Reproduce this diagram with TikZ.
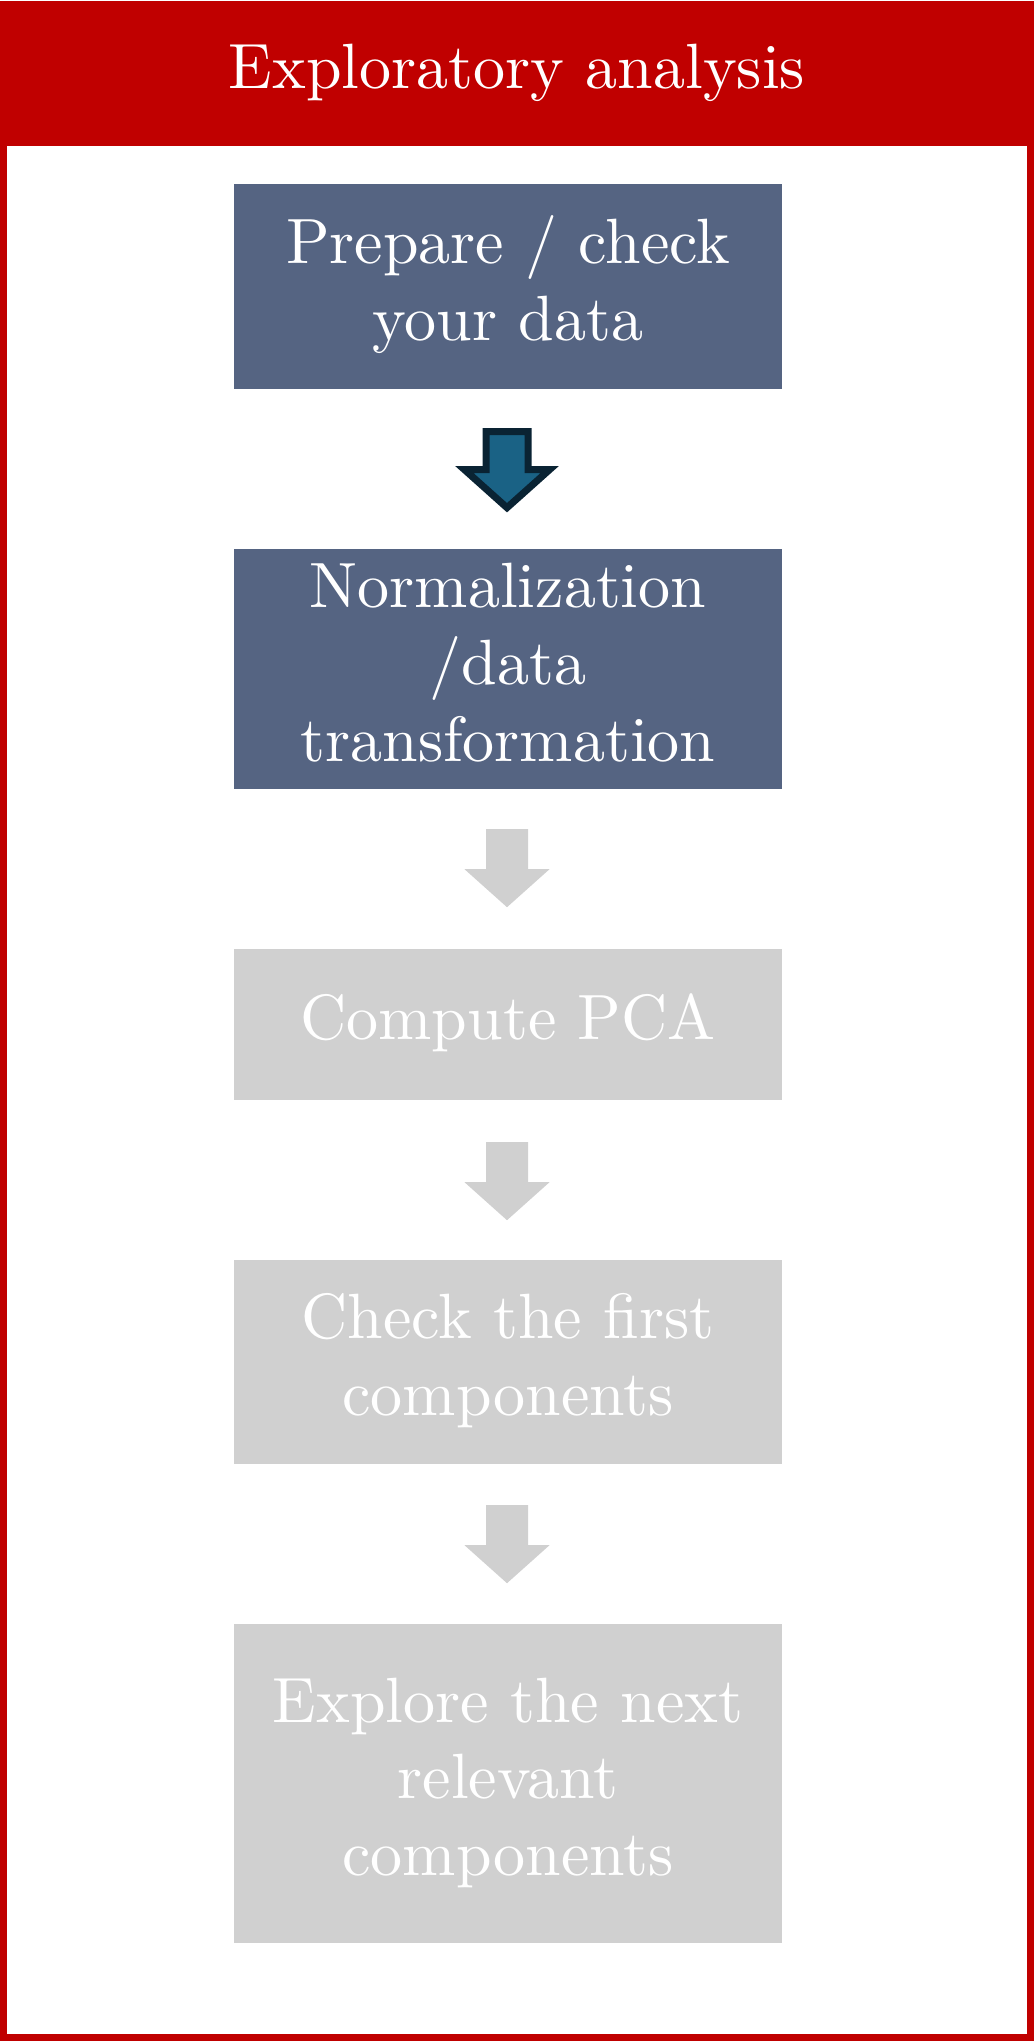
\documentclass[tikz,border=0pt]{standalone}
\usetikzlibrary{calc}
\definecolor{hdrred}{HTML}{C00000}
\definecolor{slate}{HTML}{556482}
\definecolor{arrblue}{HTML}{1A6285}
\definecolor{arrdark}{HTML}{0A2333}
\definecolor{lightgray}{HTML}{D0D0D0}
\newcommand{\bigtxt}[1]{\scalebox{6.4}{\fontsize{10}{12}\selectfont\begin{tabular}{@{}c@{}}#1\end{tabular}}}
\begin{document}
\begin{tikzpicture}[x=1pt,y=-1pt,
  bigtext/.style={text=white, align=center, inner sep=0pt},
  stepbox/.style={bigtext, minimum width=548pt, anchor=center},
  activebox/.style={stepbox, fill=slate},
  idlebox/.style={stepbox, fill=lightgray},
  activearrow/.style={fill=arrblue, draw=arrdark, line width=7pt, miter limit=10},
  idlearrow/.style={fill=lightgray, draw=none}
]
\useasboundingbox (0,0) rectangle (1035,2044);
\fill[white] (0,0) rectangle (1035,2044);
% frame and header
\draw[hdrred, line width=6.5pt] (3.5,4) rectangle (1030.5,2037.5);
\fill[hdrred] (0.5,1) rectangle (1034,146);
\node[bigtext] (title) at (517,73.5) {\bigtxt{Exploratory analysis}};
% boxes
\node[activebox, minimum height=205pt] (b1) at (508,286.5) {\bigtxt{Prepare / check\\your data}};
\node[activebox, minimum height=240pt] (b2) at (508,669) {\bigtxt{Normalization\\/data\\transformation}};
\node[idlebox, minimum height=151pt] (b3) at (508,1024.5) {\bigtxt{Compute PCA}};
\node[idlebox, minimum height=204pt] (b4) at (508,1362) {\bigtxt{Check the first\\components}};
\node[idlebox, minimum height=319pt] (b5) at (508,1783.5) {\bigtxt{Explore the next\\relevant\\components}};
% arrows
\draw[activearrow] (b1.south) ++(-22,42.5) -- ++(42,0) -- ++(0,38) -- ++(21.5,0) -- ++(-42.5,38) -- ++(-42.5,-38) -- ++(21.5,0) -- cycle;
\fill[idlearrow] (b2.south) ++(-22,40) -- ++(42,0) -- ++(0,40) -- ++(21.5,0) -- ++(-42.5,38) -- ++(-42.5,-38) -- ++(21.5,0) -- cycle;
\fill[idlearrow] (b3.south) ++(-22,42) -- ++(42,0) -- ++(0,40) -- ++(21.5,0) -- ++(-42.5,38) -- ++(-42.5,-38) -- ++(21.5,0) -- cycle;
\fill[idlearrow] (b4.south) ++(-22,41) -- ++(42,0) -- ++(0,40) -- ++(21.5,0) -- ++(-42.5,38) -- ++(-42.5,-38) -- ++(21.5,0) -- cycle;
\end{tikzpicture}
\end{document}
